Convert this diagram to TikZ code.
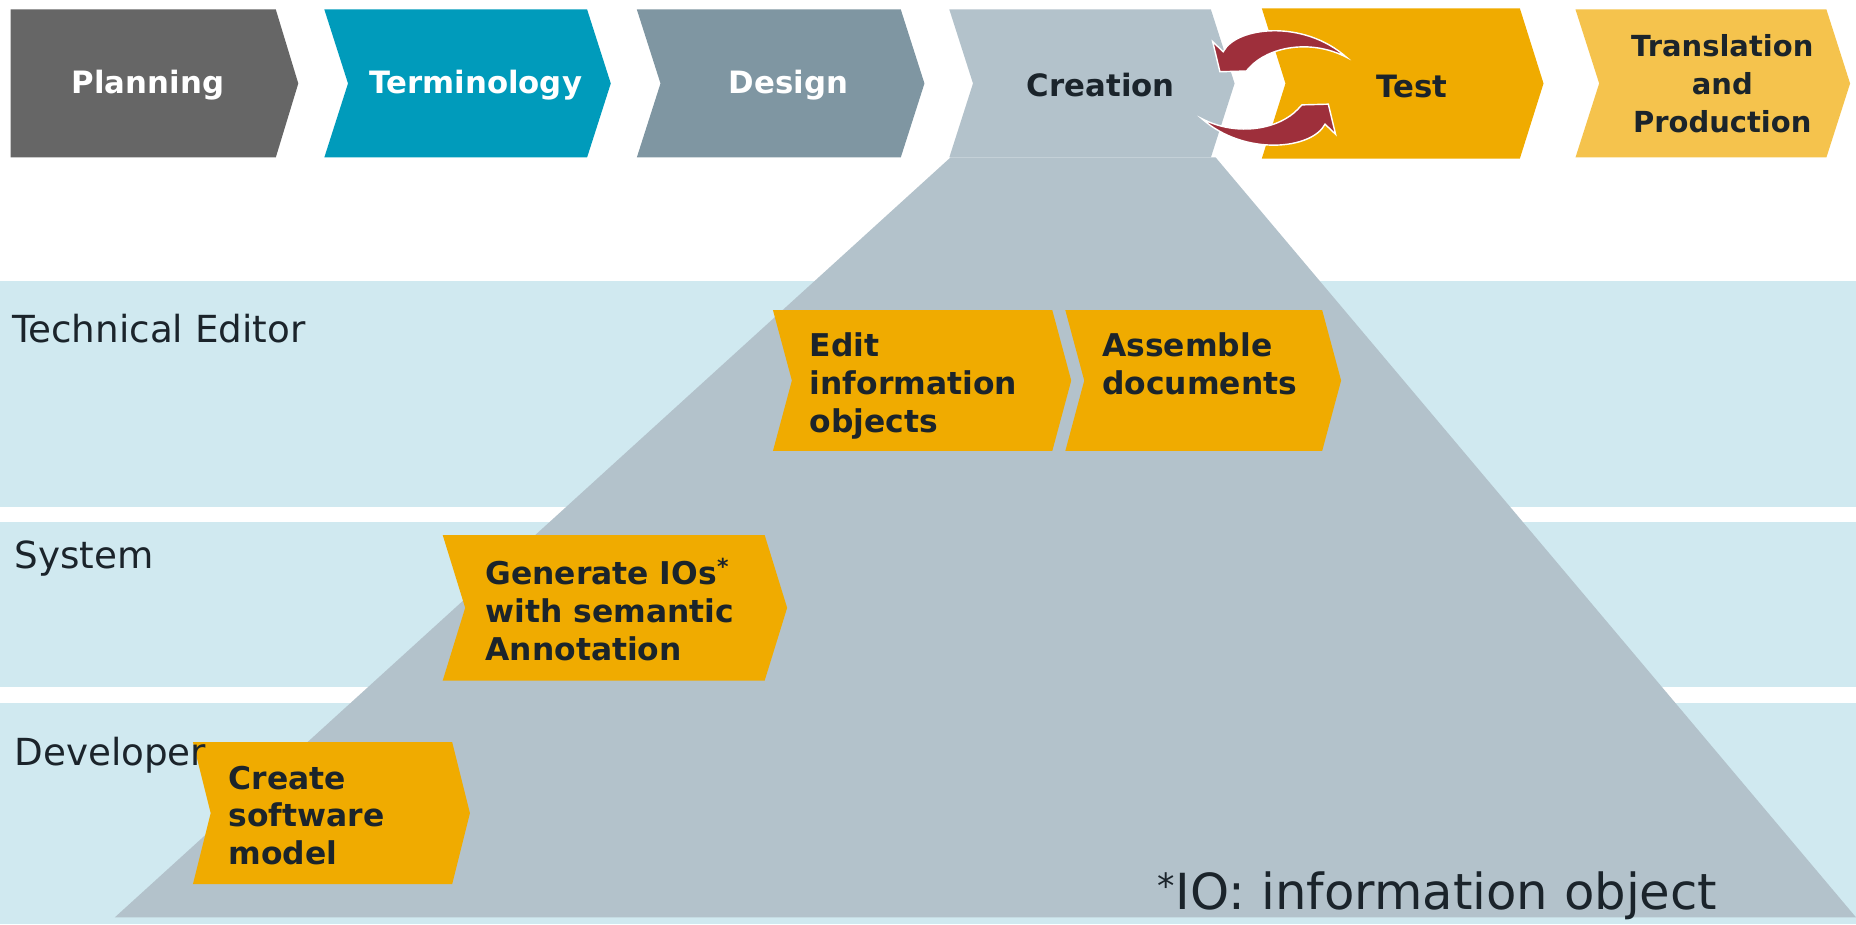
\documentclass[tikz,border=0pt]{standalone}
\usepackage{fontspec}
\setmainfont{DejaVu Sans}

\definecolor{planning}{HTML}{666666}
\definecolor{terminology}{HTML}{009BBB}
\definecolor{design}{HTML}{7F96A2}
\definecolor{creation}{HTML}{B3C2CB}
\definecolor{test}{HTML}{F0AB00}
\definecolor{translation}{HTML}{F5C34D}
\definecolor{lanebg}{HTML}{D0E9F0}
\definecolor{textdark}{HTML}{1B242B}
\definecolor{arrowred}{HTML}{9E2F3B}

% notch factor (optional), colour, left, right, top, bottom, tip depth
\newcommand{\chevron}[7][1]{%
    \fill[#2] (#3,#5) -- (#4,#5) -- ({#4+#7},{(#5+#6)/2}) -- (#4,#6) -- (#3,#6)
        -- ({#3+#1*#7},{(#5+#6)/2}) -- cycle;
}

\begin{document}
\begin{tikzpicture}[x=1pt, y=-1pt,
        phase/.style={font=\bfseries\fontsize{26}{32}\selectfont, align=center, text=textdark},
        task/.style={font=\bfseries\fontsize{26.5}{32}\selectfont, align=left, text=textdark, anchor=west, inner sep=0pt},
        role/.style={font=\fontsize{31.5}{38}\selectfont, text=textdark, anchor=base west, inner sep=0pt}]

        \useasboundingbox (0,0) rectangle (1568,781);

        \foreach \ya/\yb in {237/428, 441/580, 594/781}{
            \fill[lanebg] (0,\ya) rectangle (1568,\yb);
        }

        \fill[creation] (803,133) -- (1027,133) -- (1568,775) -- (97,775) -- cycle;

        \chevron[0]{planning}{9}{233}{8}{133}{19}
        \foreach \xa/\xb/\ya/\yb/\col in {274/496/8/133/terminology, 538/761/8/133/design, 802/1023/8/133/creation, 1066/1284/7/134/test, 1331/1543/8/133/translation}{
            \chevron{\col}{\xa}{\xb}{\ya}{\yb}{20}
        }

        \node[phase, text=white] (planning) at (125,72) {Planning};
        \node[phase, text=white] (terminology) at (402,72) {Terminology};
        \node[phase, text=white] (design) at (666,72) {Design};
        \node[phase] (creation) at (930,72) {Creation};
        \node[phase] (test) at (1193,73) {Test};
        \node[phase, font=\bfseries\fontsize{24.5}{32}\selectfont] (translation) at (1455,71) {Translation\\and\\Production};

        \foreach \ang in {0, 180}{
            \begin{scope}[shift={(1076.4,74.3)}, rotate=\ang]
                \filldraw[fill=arrowred, draw=white, line width=1.2pt] (-43,-30.6)
                    .. controls (-32,-52) and (25,-58) .. (61,-26)
                    .. controls (30,-42) and (-5,-34) .. (-20,-18)
                    -- (-23.5,-14.3) -- (-45.8,-13.7) -- (-51.9,-39.1) -- cycle;
            \end{scope}
        }

        \foreach \xa/\xb/\ya/\yb/\d in {653/889/262/381/16, 900/1117/262/381/16, 374/646/452/575/19, 163/382/627/747/15}{
            \chevron{test}{\xa}{\xb}{\ya}{\yb}{\d}
        }

        \node[role] (editor) at (10,289) {Technical Editor};
        \node[role] (system) at (12,480) {System};
        \node[role] (developer) at (12,647) {Developer};

        \node[task] (edit) at (684,326) {Edit\\information\\objects};
        \node[task] (assemble) at (931,307) {Assemble\\documents};
        \node[task] (generate) at (410,515) {Generate IOs\textsuperscript{*}\\with semantic\\Annotation};
        \node[task] (create) at (193,689) {Create\\software\\model};

        \node[anchor=base west, inner sep=0pt, text=textdark, font=\fontsize{42}{50}\selectfont] (footnote) at (978,768) {\textsuperscript{*}IO: information object};

\end{tikzpicture}
\end{document}
